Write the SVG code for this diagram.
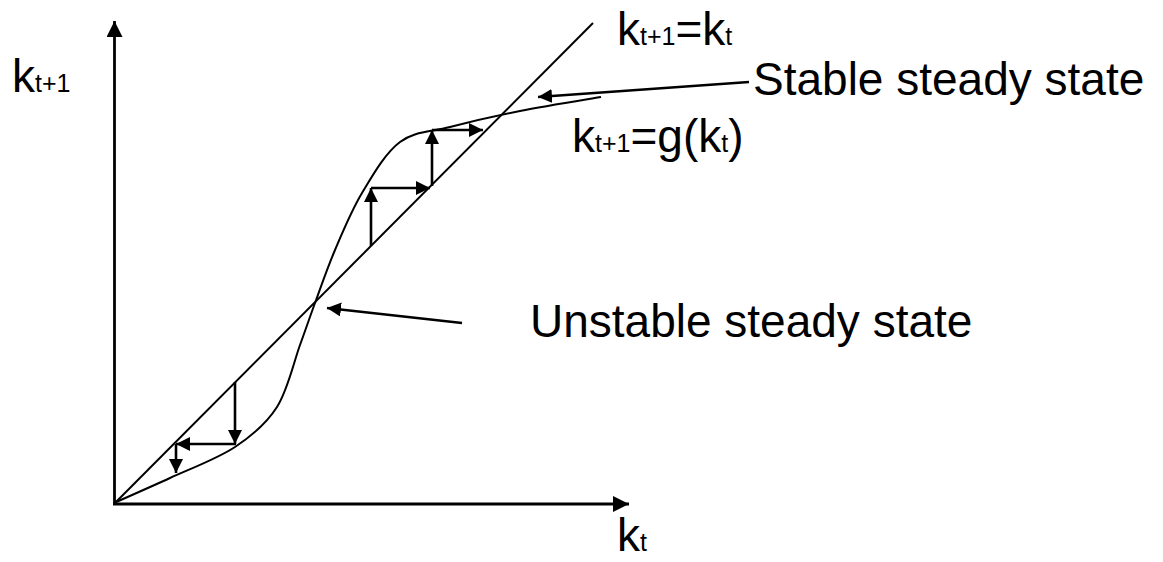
<svg xmlns="http://www.w3.org/2000/svg" width="1163" height="562" viewBox="0 0 1163 562">
<style>
.t{font-family:"Liberation Sans",Arial,sans-serif;font-size:46px;fill:#000}
.s{font-size:25px}
.ax{stroke:#000;stroke-width:2.8;fill:none}
.ln{stroke:#000;stroke-width:2;fill:none}
.ar{stroke:#000;stroke-width:2.6;fill:none}
</style>
<defs>
<marker id="big" markerUnits="userSpaceOnUse" markerWidth="18" markerHeight="18" refX="16" refY="8" orient="auto"><path d="M0,0 L16,8 L0,16 z" fill="#000"/></marker>
<marker id="sm" markerUnits="userSpaceOnUse" markerWidth="16" markerHeight="16" refX="14" refY="7" orient="auto"><path d="M0,0 L14,7 L0,14 z" fill="#000"/></marker>
</defs>
<g id="axes">
<line class="ax" x1="114.5" y1="504" x2="114.5" y2="21" marker-end="url(#big)"/>
<line class="ax" x1="113" y1="504" x2="629" y2="504" marker-end="url(#big)"/>
</g>
<g id="diagonal"><line class="ln" x1="114" y1="504" x2="593" y2="23"/></g>
<g id="curve"><path class="ln" d="M114,503 C123.3,498.8 149.8,487.3 170,478 C190.2,468.7 217.2,458.8 235,447 C252.8,435.2 266.2,424 277,407 C287.8,390 293.7,362.3 300,345 C306.3,327.7 309.2,318.8 315,303 C320.8,287.2 327.2,268.3 335,250 C342.8,231.7 351.2,211 362,193 C372.8,175 385.3,153 400,142 C414.7,131 430,132.2 450,127 C470,121.8 494.8,116 520,111 C545.2,106 587.5,99.3 601,97"/></g>
<g id="connectors">
<line class="ar" x1="371" y1="246" x2="371" y2="188" marker-end="url(#sm)"/>
<line class="ar" x1="371" y1="188" x2="430" y2="188" marker-end="url(#sm)"/>
<line class="ar" x1="432" y1="186" x2="432" y2="130" marker-end="url(#sm)"/>
<line class="ar" x1="432" y1="130" x2="483" y2="130" marker-end="url(#sm)"/>
<line class="ar" x1="235" y1="382" x2="235" y2="444" marker-end="url(#sm)"/>
<line class="ar" x1="236" y1="444" x2="176" y2="444" marker-end="url(#sm)"/>
<line class="ar" x1="176" y1="444" x2="176" y2="473" marker-end="url(#sm)"/>
<line class="ar" x1="749" y1="82" x2="538" y2="97" marker-end="url(#sm)"/>
<line class="ar" x1="462" y1="323" x2="327" y2="308" marker-end="url(#sm)"/>
</g>
<g id="label-y"><text class="t" x="12" y="92">k<tspan class="s">t+1</tspan></text></g>
<g id="label-x"><text class="t" x="617" y="551">k<tspan class="s">t</tspan></text></g>
<g id="label-diag"><text class="t" x="617" y="45">k<tspan class="s">t+1</tspan>=k<tspan class="s">t</tspan></text></g>
<g id="label-g"><text class="t" x="572" y="152">k<tspan class="s">t+1</tspan>=g(k<tspan class="s">t</tspan>)</text></g>
<g id="label-stable"><text class="t" x="753" y="95">Stable steady state</text></g>
<g id="label-unstable"><text class="t" x="530" y="337">Unstable steady state</text></g>
</svg>
